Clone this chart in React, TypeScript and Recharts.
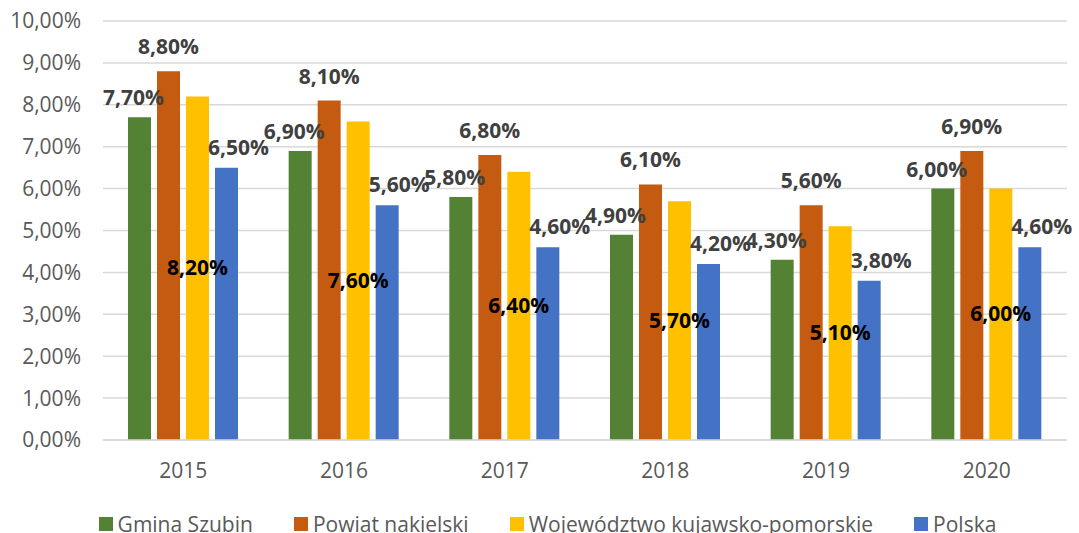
import React from 'react';
import { BarChart, Bar, XAxis, YAxis, CartesianGrid, Legend, LabelList } from 'recharts';

const years = ['2015', '2016', '2017', '2018', '2019', '2020'];
const gminaSzubin = [7.7, 6.9, 5.8, 4.9, 4.3, 6.0];
const powiatNakielski = [8.8, 8.1, 6.8, 6.1, 5.6, 6.9];
const wojewodztwo = [8.2, 7.6, 6.4, 5.7, 5.1, 6.0];
const polska = [6.5, 5.6, 4.6, 4.2, 3.8, 4.6];
const yTicks = [0, 1, 2, 3, 4, 5, 6, 7, 8, 9, 10];

const seriesNames = ['Gmina Szubin', 'Powiat nakielski', 'Województwo kujawsko-pomorskie', 'Polska'];
const seriesColors = ['#548235', '#C55A11', '#FFC000', '#4472C4'];

const data = years.map((y, i) => ({
  year: y,
  s0: gminaSzubin[i],
  s1: powiatNakielski[i],
  s2: wojewodztwo[i],
  s3: polska[i],
}));

const FONT = '"Open Sans", "Noto Sans", sans-serif';
const fmt = (v: number) => v.toFixed(2).replace('.', ',') + '%';

const makeTopLabel = (dx: number, gap: number) => (props: any) => {
  const { x, y, width, value } = props;
  return (
    <text
      x={Number(x) + Number(width) / 2 + dx}
      y={Number(y) - gap}
      textAnchor="middle"
      fontFamily={FONT}
      fontWeight={700}
      fontSize={21}
      fill="#404040"
    >
      {fmt(Number(value))}
    </text>
  );
};

const centerLabel = (props: any) => {
  const { x, y, width, height, value } = props;
  return (
    <text
      x={Number(x) + Number(width) / 2}
      y={Number(y) + Number(height) / 2 + 7}
      textAnchor="middle"
      fontFamily={FONT}
      fontWeight={700}
      fontSize={21}
      fill="#000000"
    >
      {fmt(Number(value))}
    </text>
  );
};

const renderLegend = () => (
  <div
    style={{
      display: 'flex',
      justifyContent: 'center',
      alignItems: 'center',
      height: 27,
      paddingLeft: 16,
      boxSizing: 'border-box',
      fontFamily: FONT,
      fontSize: 21,
      color: '#595959',
      whiteSpace: 'nowrap',
    }}
  >
    {seriesNames.map((n, i) => (
      <div key={n} style={{ display: 'flex', alignItems: 'center', marginRight: i < 3 ? 41 : 0 }}>
        <span style={{ display: 'inline-block', width: 14, height: 14, background: seriesColors[i], marginRight: 5 }} />
        <span>{n}</span>
      </div>
    ))}
  </div>
);

export default function App() {
  return (
    <div style={{ position: 'absolute', left: 0, top: 0, width: 1079, height: 533, background: '#fff', overflow: 'hidden' }}>
      <BarChart
        width={1079}
        height={533}
        data={data}
        margin={{ top: 21, right: 12, left: 0, bottom: 0 }}
        barCategoryGap={25}
        barGap={6}
      >
        <CartesianGrid vertical={false} stroke="#D9D9D9" strokeWidth={1.5} />
        <XAxis
          dataKey="year"
          axisLine={{ stroke: '#D9D9D9', strokeWidth: 1.5 }}
          tickLine={false}
          tickSize={0}
          tickMargin={23}
          height={66}
          tick={{ fontFamily: FONT, fontSize: 21, fill: '#595959' }}
        />
        <YAxis
          domain={[0, 10]}
          ticks={yTicks}
          interval={0}
          axisLine={false}
          tickLine={false}
          tickSize={0}
          tickMargin={22}
          width={103}
          tickFormatter={(v: number) => fmt(v)}
          tick={{ fontFamily: FONT, fontSize: 21, fill: '#595959' }}
        />
        <Legend verticalAlign="bottom" content={renderLegend} wrapperStyle={{ left: 0, width: 1079, bottom: -4 }} />
        <Bar dataKey="s0" name={seriesNames[0]} fill={seriesColors[0]} isAnimationActive={false}>
          <LabelList dataKey="s0" content={makeTopLabel(-6, 12)} />
        </Bar>
        <Bar dataKey="s1" name={seriesNames[1]} fill={seriesColors[1]} isAnimationActive={false}>
          <LabelList dataKey="s1" content={makeTopLabel(0, 17)} />
        </Bar>
        <Bar dataKey="s2" name={seriesNames[2]} fill={seriesColors[2]} isAnimationActive={false}>
          <LabelList dataKey="s2" content={centerLabel} />
        </Bar>
        <Bar dataKey="s3" name={seriesNames[3]} fill={seriesColors[3]} isAnimationActive={false}>
          <LabelList dataKey="s3" content={makeTopLabel(12, 13)} />
        </Bar>
      </BarChart>
    </div>
  );
}
